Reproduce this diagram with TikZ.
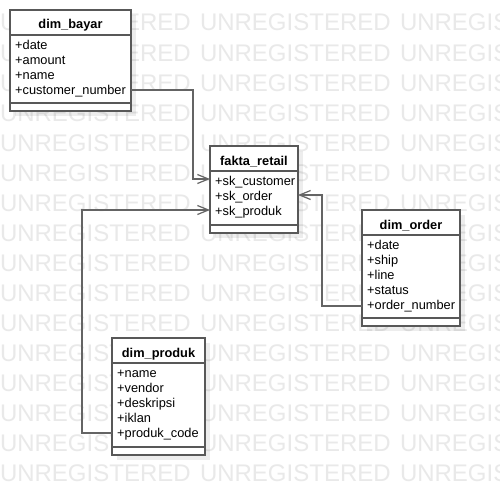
\documentclass[tikz,border=0pt]{standalone}
\usepackage{fontspec}
\setmainfont{Liberation Sans}
\usetikzlibrary{arrows.meta,shadows}
\definecolor{wm}{RGB}{233,233,233}
\definecolor{boxline}{RGB}{88,88,88}
\definecolor{connline}{RGB}{100,100,100}
\tikzset{
  wmtext/.style={anchor=base west, inner sep=0pt, outer sep=0pt, text=wm, font=\fontsize{24}{24}\selectfont},
  classbox/.style={draw=boxline, line width=1.5pt, fill=white, anchor=north west, inner sep=0pt, outer sep=0pt,
    drop shadow={shadow xshift=5pt, shadow yshift=-5pt, fill=black, opacity=0.07}},
  sepline/.style={draw=boxline, line width=1.5pt},
  ctitle/.style={anchor=base, inner sep=0pt, font=\fontsize{12.8}{15}\selectfont\bfseries},
  cattr/.style={anchor=base west, inner sep=0pt, font=\fontsize{12.8}{15}\selectfont},
  conn/.style={draw=connline, line width=1.2pt, -{Straight Barb[length=11pt,width=9pt]}}
}
\begin{document}
\begin{tikzpicture}[x=1pt,y=-1pt]
\useasboundingbox (0,0) rectangle (500,495);
\clip (0,0) rectangle (500,495);
\fill[white] (0,0) rectangle (500,495);
% watermark
\foreach \r in {0,...,15}{
  \foreach \c in {0,1,2}{
    \node[wmtext] (wm-\r-\c) at (200*\c, 31+30*\r) {UNREGISTERED};
  }
}
% dim_bayar
\node[classbox, minimum width=121pt, minimum height=101pt] (bayar) at (10,10) {};
\draw[sepline] ([yshift=-25pt]bayar.north west) -- ([yshift=-25pt]bayar.north east);
\draw[sepline] ([yshift=8pt]bayar.south west) -- ([yshift=8pt]bayar.south east);
\node[ctitle] (bayar-t) at ([yshift=-19pt]bayar.north) {dim\_bayar};
\node[cattr] (bayar-a1) at ([xshift=5pt,yshift=-39.5pt]bayar.north west) {+date};
\node[cattr] (bayar-a2) at ([xshift=5pt,yshift=-54.5pt]bayar.north west) {+amount};
\node[cattr] (bayar-a3) at ([xshift=5pt,yshift=-69.5pt]bayar.north west) {+name};
\node[cattr] (bayar-a4) at ([xshift=5pt,yshift=-84.5pt]bayar.north west) {+customer\_number};
% fakta_retail
\node[classbox, minimum width=88pt, minimum height=87pt] (fakta) at (210,146) {};
\draw[sepline] ([yshift=-25pt]fakta.north west) -- ([yshift=-25pt]fakta.north east);
\draw[sepline] ([yshift=8pt]fakta.south west) -- ([yshift=8pt]fakta.south east);
\node[ctitle] (fakta-t) at ([yshift=-19pt]fakta.north) {fakta\_retail};
\node[cattr] (fakta-a1) at ([xshift=5pt,yshift=-39.5pt]fakta.north west) {+sk\_customer};
\node[cattr] (fakta-a2) at ([xshift=5pt,yshift=-54.5pt]fakta.north west) {+sk\_order};
\node[cattr] (fakta-a3) at ([xshift=5pt,yshift=-69.5pt]fakta.north west) {+sk\_produk};
% dim_order
\node[classbox, minimum width=98pt, minimum height=116pt] (order) at (362,210) {};
\draw[sepline] ([yshift=-25pt]order.north west) -- ([yshift=-25pt]order.north east);
\draw[sepline] ([yshift=8pt]order.south west) -- ([yshift=8pt]order.south east);
\node[ctitle] (order-t) at ([yshift=-19pt]order.north) {dim\_order};
\node[cattr] (order-a1) at ([xshift=5pt,yshift=-39.5pt]order.north west) {+date};
\node[cattr] (order-a2) at ([xshift=5pt,yshift=-54.5pt]order.north west) {+ship};
\node[cattr] (order-a3) at ([xshift=5pt,yshift=-69.5pt]order.north west) {+line};
\node[cattr] (order-a4) at ([xshift=5pt,yshift=-84.5pt]order.north west) {+status};
\node[cattr] (order-a5) at ([xshift=5pt,yshift=-99.5pt]order.north west) {+order\_number};
% dim_produk
\node[classbox, minimum width=93pt, minimum height=117pt] (produk) at (112,338) {};
\draw[sepline] ([yshift=-25pt]produk.north west) -- ([yshift=-25pt]produk.north east);
\draw[sepline] ([yshift=8pt]produk.south west) -- ([yshift=8pt]produk.south east);
\node[ctitle] (produk-t) at ([yshift=-19pt]produk.north) {dim\_produk};
\node[cattr] (produk-a1) at ([xshift=5pt,yshift=-39.5pt]produk.north west) {+name};
\node[cattr] (produk-a2) at ([xshift=5pt,yshift=-54.5pt]produk.north west) {+vendor};
\node[cattr] (produk-a3) at ([xshift=5pt,yshift=-69.5pt]produk.north west) {+deskripsi};
\node[cattr] (produk-a4) at ([xshift=5pt,yshift=-84.5pt]produk.north west) {+iklan};
\node[cattr] (produk-a5) at ([xshift=5pt,yshift=-99.5pt]produk.north west) {+produk\_code};
% connector end points
\coordinate (bayar-out) at ([yshift=-80pt]bayar.north east);
\coordinate (fakta-in1) at ([yshift=-33pt]fakta.north west);
\coordinate (fakta-in2) at ([yshift=-49pt]fakta.north east);
\coordinate (fakta-in3) at ([yshift=-64pt]fakta.north west);
\coordinate (order-out) at ([yshift=-96pt]order.north west);
\coordinate (produk-out) at ([yshift=-95pt]produk.north west);
% connectors
\draw[conn] (bayar-out) -- ++(62,0) |- (fakta-in1);
\draw[conn] (order-out) -- ++(-40,0) |- (fakta-in2);
\draw[conn] (produk-out) -- ++(-30,0) |- (fakta-in3);
\end{tikzpicture}
\end{document}
